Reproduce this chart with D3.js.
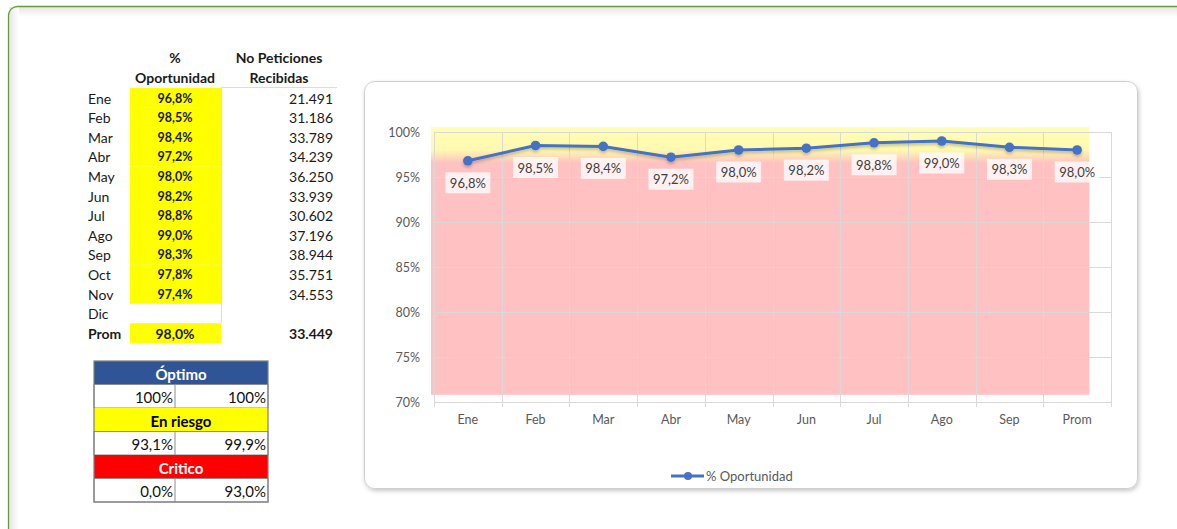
<!DOCTYPE html>
<html>
<head>
<meta charset="utf-8">
<script src="https://cdn.jsdelivr.net/npm/d3@7"></script>
<style>
  body { margin: 0; background: #fff; }
  svg { display: block; font-family: Lato, "Noto Sans", sans-serif; }
</style>
</head>
<body>
<div id="chart"></div>
<script>
// table data
const months = ["Ene", "Feb", "Mar", "Abr", "May", "Jun", "Jul", "Ago", "Sep", "Oct", "Nov", "Dic"];
const pctOportunidad = [0.968, 0.985, 0.984, 0.972, 0.980, 0.982, 0.988, 0.990, 0.983, 0.978, 0.974, null];
const peticiones = [21491, 31186, 33789, 34239, 36250, 33939, 30602, 37196, 38944, 35751, 34553, null];
const promPct = 0.980;
const promPeticiones = 33449;

// chart data
const chartCats = ["Ene", "Feb", "Mar", "Abr", "May", "Jun", "Jul", "Ago", "Sep", "Prom"];
const chartValues = [0.968, 0.985, 0.984, 0.972, 0.980, 0.982, 0.988, 0.990, 0.983, 0.980];
const yTicks = [0.70, 0.75, 0.80, 0.85, 0.90, 0.95, 1.00];

// semaforo
const ranges = [
  { name: "Óptimo", from: "100%", to: "100%", fill: "#2F5597", text: "#fff" },
  { name: "En riesgo", from: "93,1%", to: "99,9%", fill: "#FFFF00", text: "#000" },
  { name: "Critico", from: "0,0%", to: "93,0%", fill: "#FF0000", text: "#fff" }
];

const es = d3.formatLocale({ decimal: ",", thousands: ".", grouping: [3], currency: ["", "€"] });
const fmtPct1 = es.format(".1%");
const fmtPct0 = es.format(".0%");
const fmtNum = es.format(",d");

const W = 1177, H = 529;
const svg = d3.select("#chart").append("svg").attr("width", W).attr("height", H);
const defs = svg.append("defs");

const shadow = defs.append("filter").attr("id", "shadow")
  .attr("x", "-5%").attr("y", "-5%").attr("width", "110%").attr("height", "110%");
shadow.append("feDropShadow").attr("dx", 1).attr("dy", 2).attr("stdDeviation", 2)
  .attr("flood-color", "#000").attr("flood-opacity", 0.22);

const lineShadow = defs.append("filter").attr("id", "lineShadow");
lineShadow.append("feDropShadow").attr("dx", 0).attr("dy", 2).attr("stdDeviation", 1.5)
  .attr("flood-color", "#000").attr("flood-opacity", 0.25);

const innerGrad = defs.append("linearGradient").attr("id", "innerLeft")
  .attr("x1", 0).attr("x2", 1).attr("y1", 0).attr("y2", 0);
innerGrad.append("stop").attr("offset", 0).attr("stop-color", "#e6e6e6");
innerGrad.append("stop").attr("offset", 1).attr("stop-color", "#fff");
const innerGradTop = defs.append("linearGradient").attr("id", "innerTop")
  .attr("x1", 0).attr("x2", 0).attr("y1", 0).attr("y2", 1);
innerGradTop.append("stop").attr("offset", 0).attr("stop-color", "#e6e6e6");
innerGradTop.append("stop").attr("offset", 1).attr("stop-color", "#fff");

// outer green frame
svg.append("rect").attr("x", 9).attr("y", 7).attr("width", W).attr("height", 10)
  .attr("fill", "url(#innerTop)");
svg.append("rect").attr("x", 9).attr("y", 7).attr("width", 10).attr("height", H)
  .attr("fill", "url(#innerLeft)");
svg.append("rect").attr("x", 8.5).attr("y", 6.5).attr("width", W + 20).attr("height", H + 20)
  .attr("rx", 9).attr("fill", "none").attr("stroke", "#6a9a3c").attr("stroke-width", 1.3);

// ---- data table ----
const tbl = svg.append("g").attr("class", "datatable").style("font-size", "14px").attr("fill", "#1a1a1a");
const rowY = i => 98 + i * 19.6;

tbl.append("text").attr("x", 175).attr("y", 57).attr("text-anchor", "middle")
  .attr("dominant-baseline", "central").attr("font-weight", "bold").text("%");
tbl.append("text").attr("x", 175).attr("y", 77).attr("text-anchor", "middle")
  .attr("dominant-baseline", "central").attr("font-weight", "bold").text("Oportunidad");
tbl.append("text").attr("x", 279).attr("y", 57).attr("text-anchor", "middle")
  .attr("dominant-baseline", "central").attr("font-weight", "bold").text("No Peticiones");
tbl.append("text").attr("x", 279).attr("y", 77).attr("text-anchor", "middle")
  .attr("dominant-baseline", "central").attr("font-weight", "bold").text("Recibidas");

const rows = months.map((m, i) => ({ m, p: pctOportunidad[i], n: peticiones[i], i }));

tbl.selectAll(".ybg").data(rows.filter(d => d.p !== null)).enter().append("rect")
  .attr("x", 130).attr("width", 91)
  .attr("y", d => rowY(d.i) - 10).attr("height", 19.8)
  .attr("fill", "#FFFF00");
tbl.append("rect").attr("x", 130).attr("width", 91)
  .attr("y", rowY(months.length) - 10).attr("height", 19.8).attr("fill", "#FFFF00");

tbl.append("line").attr("x1", 221.5).attr("x2", 221.5).attr("y1", 88).attr("y2", rowY(months.length) - 10)
  .attr("stroke", "#dcdcdc");
tbl.append("line").attr("x1", 221).attr("x2", 337).attr("y1", 87.5).attr("y2", 87.5)
  .attr("stroke", "#dcdcdc");

const r = tbl.selectAll(".row").data(rows).enter().append("g").attr("class", "row");
r.append("text").attr("x", 88).attr("y", d => rowY(d.i)).attr("dominant-baseline", "central")
  .text(d => d.m);
r.append("text").attr("x", 175).attr("y", d => rowY(d.i)).attr("dominant-baseline", "central")
  .attr("text-anchor", "middle").attr("font-weight", "bold").style("font-size", "12.5px")
  .text(d => d.p === null ? "" : fmtPct1(d.p));
r.append("text").attr("x", 333).attr("y", d => rowY(d.i)).attr("dominant-baseline", "central")
  .attr("text-anchor", "end")
  .text(d => d.n === null ? "" : fmtNum(d.n));

const pr = tbl.append("g").attr("font-weight", "bold");
pr.append("text").attr("x", 88).attr("y", rowY(months.length)).attr("dominant-baseline", "central").text("Prom");
pr.append("text").attr("x", 175).attr("y", rowY(months.length)).attr("dominant-baseline", "central")
  .attr("text-anchor", "middle").text(fmtPct1(promPct));
pr.append("text").attr("x", 333).attr("y", rowY(months.length)).attr("dominant-baseline", "central")
  .attr("text-anchor", "end").text(fmtNum(promPeticiones));

// ---- semaforo table ----
const sem = svg.append("g").style("font-size", "15px");
const sx0 = 94, sx1 = 175, sx2 = 268, rh = 23.5, sy0 = 361;
ranges.forEach((d, i) => {
  const top = sy0 + i * 2 * rh;
  sem.append("rect").attr("x", sx0).attr("y", top).attr("width", sx2 - sx0).attr("height", rh)
    .attr("fill", d.fill);
  sem.append("text").attr("x", (sx0 + sx2) / 2).attr("y", top + rh / 2 + 1)
    .attr("text-anchor", "middle").attr("dominant-baseline", "central")
    .attr("font-weight", "bold").attr("fill", d.text).text(d.name);
  sem.append("rect").attr("x", sx0).attr("y", top + rh).attr("width", sx2 - sx0).attr("height", rh)
    .attr("fill", "#fff").attr("stroke", "#8c8c8c");
  sem.append("line").attr("x1", sx1).attr("x2", sx1).attr("y1", top + rh).attr("y2", top + 2 * rh)
    .attr("stroke", "#8c8c8c");
  sem.append("text").attr("x", sx1 - 2).attr("y", top + rh * 1.5 + 1)
    .attr("text-anchor", "end").attr("dominant-baseline", "central").attr("fill", "#111").text(d.from);
  sem.append("text").attr("x", sx2 - 2).attr("y", top + rh * 1.5 + 1)
    .attr("text-anchor", "end").attr("dominant-baseline", "central").attr("fill", "#111").text(d.to);
});
sem.append("rect").attr("x", sx0).attr("y", sy0).attr("width", sx2 - sx0).attr("height", rh * 6)
  .attr("fill", "none").attr("stroke", "#7f7f7f").attr("stroke-width", 1.2);

// ---- chart card ----
svg.append("rect").attr("x", 364.5).attr("y", 81.5).attr("width", 773).attr("height", 407)
  .attr("rx", 10).attr("fill", "#fff").attr("stroke", "#cfcfcf").attr("filter", "url(#shadow)");

const x = d3.scaleBand().domain(chartCats).range([434, 1111]);
const y = d3.scaleLinear().domain([0.70, 1.00]).range([402, 132]);
const cx = d => x(d.c) + x.bandwidth() / 2;

// background zones
const zoneGrad = defs.append("linearGradient").attr("id", "zones")
  .attr("x1", 0).attr("x2", 0).attr("y1", 0).attr("y2", 1);
zoneGrad.append("stop").attr("offset", 0).attr("stop-color", "#fffdb4");
zoneGrad.append("stop").attr("offset", 0.085).attr("stop-color", "#fffab0");
zoneGrad.append("stop").attr("offset", 0.135).attr("stop-color", "#ffc1c1");
zoneGrad.append("stop").attr("offset", 1).attr("stop-color", "#ffc1c1");

const zTop = y(1.0055), zBot = y(0.708);
const zRight = x("Prom") + x.bandwidth() * 0.68;
svg.append("rect")
  .attr("x", x.range()[0] - 3).attr("y", zTop)
  .attr("width", zRight - x.range()[0] + 3)
  .attr("height", zBot - zTop)
  .attr("fill", "url(#zones)");

// gridlines
const grid = svg.append("g").attr("stroke", "#d9d9d9").attr("stroke-width", 1);
grid.selectAll(".hg").data(yTicks).enter().append("line")
  .attr("x1", x.range()[0]).attr("x2", x.range()[1])
  .attr("y1", d => Math.round(y(d)) + 0.5).attr("y2", d => Math.round(y(d)) + 0.5);
grid.selectAll(".vg").data(chartCats.concat(["_end"])).enter().append("line")
  .attr("x1", (d, i) => Math.round(x.range()[0] + i * x.step()) + 0.5)
  .attr("x2", (d, i) => Math.round(x.range()[0] + i * x.step()) + 0.5)
  .attr("y1", y(1.0)).attr("y2", y(0.70) + 5);

// axes
const yAxis = d3.axisLeft(y).tickValues(yTicks).tickFormat(fmtPct0).tickSize(0).tickPadding(14);
svg.append("g").attr("transform", `translate(${x.range()[0]},0)`).call(yAxis)
  .call(g => g.select(".domain").remove())
  .call(g => g.selectAll("text").attr("fill", "#595959").style("font-size", "12.5px")
    .style("font-family", "Lato, 'Noto Sans', sans-serif"));

const xAxis = d3.axisBottom(x).tickSize(0).tickPadding(13);
svg.append("g").attr("transform", `translate(0,${y(0.70)})`).call(xAxis)
  .call(g => g.select(".domain").remove())
  .call(g => g.selectAll("text").attr("fill", "#595959").style("font-size", "12.5px")
    .style("font-family", "Lato, 'Noto Sans', sans-serif"));

// series
const pts = chartCats.map((c, i) => ({ c, v: chartValues[i] }));
const line = d3.line().x(cx).y(d => y(d.v));

const series = svg.append("g").attr("filter", "url(#lineShadow)");
series.append("path").datum(pts).attr("d", line)
  .attr("fill", "none").attr("stroke", "#4472C4").attr("stroke-width", 3).attr("stroke-linejoin", "round");
series.selectAll(".dot").data(pts).enter().append("circle")
  .attr("cx", cx).attr("cy", d => y(d.v)).attr("r", 4.8).attr("fill", "#4472C4");

// data labels
const lab = svg.append("g").selectAll(".lab").data(pts).enter().append("g")
  .attr("transform", d => `translate(${cx(d)},${y(d.v) + 22})`);
lab.append("rect").attr("x", -22.5).attr("y", -10.5).attr("width", 45).attr("height", 21)
  .attr("fill", "#fff").attr("fill-opacity", 0.78);
lab.append("text").attr("text-anchor", "middle").attr("dominant-baseline", "central")
  .attr("fill", "#404040").style("font-size", "13px").text(d => fmtPct1(d.v));

// legend
const lg = svg.append("g").attr("transform", "translate(671,476)");
lg.append("line").attr("x1", 0).attr("x2", 33).attr("stroke", "#4472C4").attr("stroke-width", 3);
lg.append("circle").attr("cx", 17).attr("r", 4).attr("fill", "#4472C4");
lg.append("text").attr("x", 35).attr("dominant-baseline", "central").attr("fill", "#595959")
  .style("font-size", "13px").text("% Oportunidad");
</script>
</body>
</html>
